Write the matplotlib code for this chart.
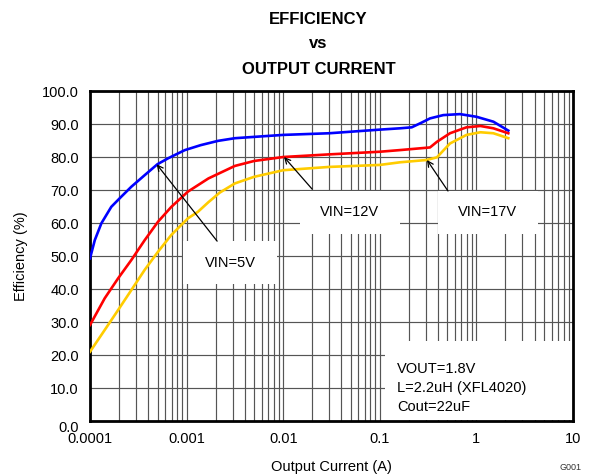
import matplotlib
matplotlib.use("Agg")
import matplotlib.pyplot as plt
from matplotlib.patches import Rectangle
from matplotlib.ticker import LogLocator, FixedLocator, FixedFormatter
import numpy as np

plt.rcParams['font.family'] = ['Liberation Sans', 'DejaVu Sans']

# efficiency curves
i_5v = [0.0001, 0.000112, 0.000131, 0.000166, 0.000211, 0.000268, 0.000368, 0.000498, 0.000642,
        0.00096, 0.0014, 0.00212, 0.00316, 0.005, 0.01, 0.03, 0.1, 0.162, 0.214, 0.27, 0.331,
        0.454, 0.676, 1.0, 1.5, 2.14]
eff_5v = [49.3, 54.8, 59.9, 64.9, 68.0, 71.0, 74.5, 77.8, 79.6,
          82.1, 83.6, 84.9, 85.7, 86.1, 86.7, 87.2, 88.3, 88.7, 89.0, 90.4, 91.7,
          92.7, 93.0, 92.2, 90.7, 88.0]

i_12v = [0.0001, 0.000142, 0.000195, 0.000268, 0.000368, 0.000506, 0.000695, 0.00103, 0.00168,
         0.00316, 0.005, 0.01, 0.03, 0.1, 0.162, 0.331, 0.39, 0.533, 0.79, 1.1, 1.5, 2.14]
eff_12v = [29.1, 37.2, 43.2, 48.8, 54.8, 60.4, 64.9, 69.5, 73.5,
           77.3, 78.8, 80.0, 80.8, 81.6, 82.1, 82.9, 84.6, 87.2, 89.0, 89.4, 88.7, 87.2]

i_17v = [0.0001, 0.000142, 0.000195, 0.000268, 0.000368, 0.000506, 0.000695, 0.00103, 0.00131,
         0.00168, 0.0022, 0.00316, 0.005, 0.01, 0.03, 0.1, 0.162, 0.305, 0.39, 0.533, 0.79,
         1.1, 1.5, 2.14]
eff_17v = [21.0, 27.6, 33.6, 39.7, 45.8, 51.3, 56.4, 61.4, 63.4,
           66.3, 69.2, 72.0, 74.0, 76.0, 77.0, 77.6, 78.4, 79.1, 79.9, 84.1, 86.7,
           87.5, 87.2, 85.7]

x_ticks = [0.0001, 0.001, 0.01, 0.1, 1, 10]
x_labels = ['0.0001', '0.001', '0.01', '0.1', '1', '10']
y_ticks = np.arange(0, 101, 10)

fig = plt.figure(figsize=(5.95, 4.76), dpi=100)
ax = fig.add_axes([0.1513, 0.1155, 0.8117, 0.6933])

ax.plot(i_5v, eff_5v, color='#0000FF', lw=1.9, zorder=4)
ax.plot(i_12v, eff_12v, color='#FF0000', lw=1.9, zorder=4)
ax.plot(i_17v, eff_17v, color='#FFCC00', lw=1.9, zorder=4)

ax.set_xscale('log')
ax.set_xlim(0.0001, 10)
ax.set_ylim(0, 100)
ax.xaxis.set_major_locator(FixedLocator(x_ticks))
ax.xaxis.set_major_formatter(FixedFormatter(x_labels))
ax.xaxis.set_minor_locator(LogLocator(base=10, subs=np.arange(2, 10), numticks=50))
ax.set_yticks(y_ticks)
ax.set_yticklabels(['%.1f' % v for v in y_ticks])
ax.tick_params(which='both', length=0, labelsize=10.5)
ax.tick_params(axis='x', pad=8)
ax.tick_params(axis='y', pad=8)
ax.get_yticklabels()[0].set_va('top')
ax.grid(True, which='both', axis='x', color='#555555', lw=0.85)
ax.grid(True, which='major', axis='y', color='#555555', lw=0.85)
ax.set_axisbelow(True)
for s in ax.spines.values():
    s.set_linewidth(2)

ax.set_xlabel('Output Current (A)', fontsize=10.5, labelpad=10)
ax.set_ylabel('Efficiency (%)', fontsize=10.5, labelpad=10)
fig.text(0.535, 0.960, 'EFFICIENCY', ha='center', va='center', fontsize=12, fontweight='bold')
fig.text(0.535, 0.908, 'vs', ha='center', va='center', fontsize=12, fontweight='bold')
fig.text(0.535, 0.855, 'OUTPUT CURRENT', ha='center', va='center', fontsize=12, fontweight='bold')
fig.text(0.94, 0.013, 'G001', fontsize=6.5, color='#333333')

# white label boxes hiding the grid
boxes = [(0.00092, 41.5, 0.00863, 54.5), (0.0149, 56.7, 0.162, 69.7),
         (0.4, 56.7, 4.34, 69.7), (0.113, 0.3, 9.9, 24.2)]
for x0, y0, x1, y1 in boxes:
    ax.add_patch(Rectangle((x0, y0), x1 - x0, y1 - y0, facecolor='white',
                           edgecolor='none', zorder=2))

ax.text(np.sqrt(0.00092 * 0.00863), 48, 'VIN=5V', ha='center', va='center', fontsize=10.5, zorder=5)
ax.text(np.sqrt(0.0149 * 0.162), 63.2, 'VIN=12V', ha='center', va='center', fontsize=10.5, zorder=5)
ax.text(np.sqrt(0.4 * 4.34), 63.2, 'VIN=17V', ha='center', va='center', fontsize=10.5, zorder=5)
ax.text(0.15, 18.0, 'VOUT=1.8V\nL=2.2uH (XFL4020)\nCout=22uF', ha='left', va='top',
        fontsize=10.5, linespacing=1.45, zorder=5)

arrows = [((0.00049, 77.8), (0.00207, 54.5)),
          ((0.0102, 80.0), (0.0199, 70.3)),
          ((0.308, 79.1), (0.508, 69.7))]
for head, tail in arrows:
    ax.annotate('', xy=head, xytext=tail,
                arrowprops=dict(arrowstyle='->', color='black', lw=0.9, shrinkA=0, shrinkB=0),
                zorder=6)

fig.savefig('out.png', dpi=100)
